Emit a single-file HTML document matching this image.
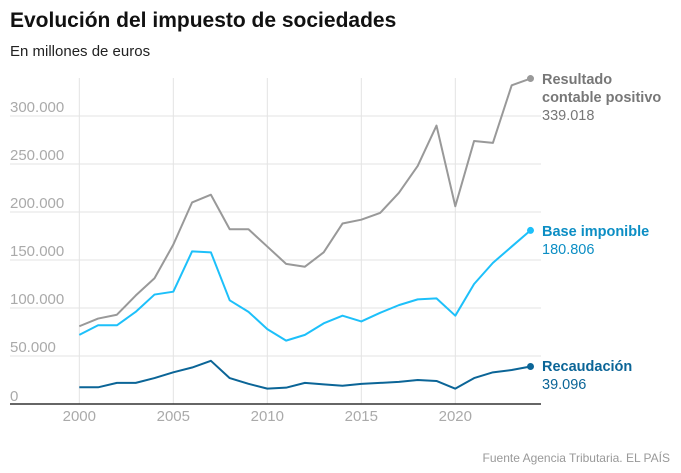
<!DOCTYPE html>
<html><head><meta charset="utf-8"><style>
body{margin:0;background:#fff;font-family:"Liberation Sans",sans-serif;}
svg{display:block}
</style></head><body>
<svg width="681" height="473">
<text x="10" y="27" font-size="21" font-weight="bold" fill="#111">Evolución del impuesto de sociedades</text>
<text x="10" y="56" font-size="15" fill="#222">En millones de euros</text>
<g id="grid"></g><g id="lines"></g><g id="labels"></g>
<text x="670" y="462" font-size="12" fill="#999" text-anchor="end">Fuente Agencia Tributaria. EL PAÍS</text>
</svg>
<script>
const years=[2000,2001,2002,2003,2004,2005,2006,2007,2008,2009,2010,2011,2012,2013,2014,2015,2016,2017,2018,2019,2020,2021,2022,2023,2024];
const resultado=[81,89,93,113,131,166,210,218,182,182,164,146,143,158,188,192,199,220,248,290,206,274,272,332,339.018];
const base=[72,82,82,96,114,117,159,158,108,96,78,66,72,84,92,86,95,103,109,110,92,125,147,164,180.806];
const recaudacion=[17.4,17.4,22,22,27,33,38,45,27,21,16,17,22,20.5,19,21,22,23,25,24,16,27,33,35.4,39.096];
const yTicks=[0,50,100,150,200,250,300];
const yTickLabels=["0","50.000","100.000","150.000","200.000","250.000","300.000"];
const xTicks=[2000,2005,2010,2015,2020];
const NS="http://www.w3.org/2000/svg";
const x=v=>79.3+(v-2000)*18.8;
const y=v=>404-v*0.96;
function mk(t,a,p){const e=document.createElementNS(NS,t);for(const k in a)e.setAttribute(k,a[k]);p.appendChild(e);return e;}
const g=document.getElementById('grid'),L=document.getElementById('lines'),lb=document.getElementById('labels');
yTicks.forEach((v,i)=>{
 if(v>0){const l=mk('line',{x1:10,x2:541,y1:y(v),y2:y(v),stroke:'#e3e3e3','stroke-width':1},g);
 
 }
 const t=mk('text',{x:10,y:y(v)-(v==0?3:4),'font-size':15,fill:'#aaa'},g);t.textContent=yTickLabels[i];
 
 
});
xTicks.forEach(v=>{
 const l=mk('line',{x1:x(v),x2:x(v),y1:78,y2:404,stroke:'#e3e3e3','stroke-width':1},g);
 
 
 const t=mk('text',{x:x(v),y:421,'font-size':15,fill:'#aaa','text-anchor':'middle'},g);t.textContent=v;
 
 
});
const ax=mk('line',{x1:10,x2:541,y1:404,y2:404,stroke:'#333','stroke-width':1.5},g);


const series=[[resultado,'#999','resultado-line'],[base,'#1dc0fa','base-line'],[recaudacion,'#0b6597','recaudacion-line']];
series.forEach(([d,c,n])=>{
 const p=mk('polyline',{points:d.map((v,i)=>x(years[i])+','+y(v)).join(' '),fill:'none',stroke:c,'stroke-width':2,'stroke-linejoin':'round'},L);
 
 
 const last=d.length-1;
 const dot=mk('circle',{cx:x(years[last]),cy:y(d[last]),r:3.5,fill:c},L);
 
 
});
function lab(lines,yy,c,bc,n,val){
 const t=mk('text',{x:542,y:yy,'font-size':14.5},lb);
 
 
 lines.forEach((s,i)=>{const ts=mk('tspan',{x:542,dy:i?18:0,'font-weight':'bold',fill:bc},t);ts.textContent=s;});
 const v=mk('tspan',{x:542,dy:18,fill:c},t);v.textContent=val;
}
const fmt=v=>(v*1000).toFixed(0).replace(/\B(?=(\d{3})+(?!\d))/g,'.');
lab(['Resultado','contable positivo'],84,'#777','#777','resultado-label',fmt(resultado[resultado.length-1]));
lab(['Base imponible'],236,'#0c8ec4','#0c8ec4','base-label',fmt(base[base.length-1]));
lab(['Recaudación'],371,'#0b6597','#0b6597','recaudacion-label',fmt(recaudacion[recaudacion.length-1]));
</script>
</body></html>
